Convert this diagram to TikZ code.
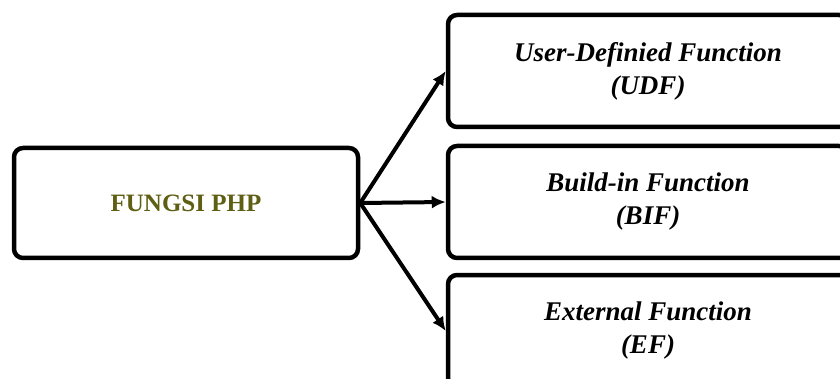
\documentclass[tikz,border=0pt]{standalone}
\usepackage{fontspec}
\setmainfont{Liberation Serif}
\usetikzlibrary{arrows.meta}
\definecolor{olivetext}{RGB}{95,95,20}
\begin{document}
\begin{tikzpicture}[x=1pt,y=-1pt,
  box/.style={draw=black,line width=4.5pt,rounded corners=9pt,fill=white,inner sep=0pt,align=center},
  leftbox/.style={box,minimum width=344pt,minimum height=110pt,
    font=\fontsize{25}{28}\selectfont\bfseries,text=olivetext},
  rightbox/.style={box,minimum width=400pt,minimum height=112pt,
    font=\fontsize{27}{33}\selectfont\bfseries\itshape},
  conn/.style={line width=4pt,-{Latex[length=14pt,width=13pt]}}]
\useasboundingbox (0,0) rectangle (840,379);
\clip (0,0) rectangle (840,379);
\node[leftbox] (fungsi) at (186,203) {FUNGSI PHP};
\node[rightbox] (udf) at (648,71) {User-Definied Function\\(UDF)};
\node[rightbox] (bif) at (648,202) {Build-in Function\\(BIF)};
\node[rightbox] (ef) at (648,331) {External Function\\(EF)};
\coordinate (j) at (fungsi.east);
\draw[conn] (j) -- (udf.west);
\draw[conn] (j) -- (bif.west);
\draw[conn] (j) -- (ef.west);
\end{tikzpicture}
\end{document}
